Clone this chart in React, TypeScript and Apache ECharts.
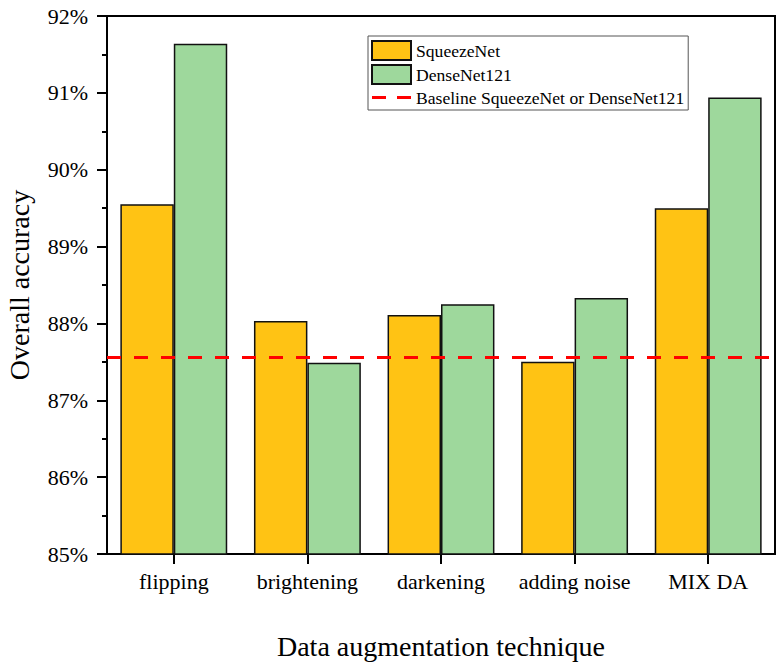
import React, { useEffect, useRef } from "react";
import * as echarts from "echarts";

const categories = ["flipping", "brightening", "darkening", "adding noise", "MIX DA"];
const squeezeNet = [89.55, 88.03, 88.11, 87.5, 89.5];
const denseNet = [91.64, 87.49, 88.25, 88.33, 90.94];
const baselineValue = 87.56;
const yMin = 85;
const yMax = 92;
const yInterval = 1;

const FONT = "Liberation Serif";

export default function App() {
  const ref = useRef<HTMLDivElement>(null);
  useEffect(() => {
    if (!ref.current) return;
    const chart = echarts.init(ref.current, undefined, { renderer: "svg" });
    chart.setOption({
      animation: false,
      backgroundColor: "#ffffff",
      textStyle: { fontFamily: FONT, color: "#000" },
      grid: {
        left: 107,
        right: 5,
        top: 16,
        bottom: 114,
        containLabel: false,
        outerBoundsMode: "none",
        show: true,
        borderColor: "#000",
        borderWidth: 2,
        backgroundColor: "transparent",
      },
      legend: {
        orient: "vertical",
        left: 368,
        top: 36,
        padding: [4, 4, 3, 3],
        itemGap: 3,
        itemWidth: 39,
        itemHeight: 19,
        borderColor: "#555",
        borderWidth: 1,
        backgroundColor: "#fff",
        textStyle: { fontFamily: FONT, fontSize: 17.6, lineHeight: 19, color: "#000" },
        data: [
          { name: "SqueezeNet", icon: "rect" },
          { name: "DenseNet121", icon: "rect" },
          {
            name: "Baseline SqueezeNet or DenseNet121",
            icon: "path://M0,0H14V3H0Z M25,0H39V3H25Z",
            itemStyle: { color: "#FF0000", borderWidth: 0 },
          },
        ],
      },
      xAxis: {
        type: "category",
        data: categories,
        name: "Data augmentation technique",
        nameLocation: "middle",
        nameGap: 78,
        nameTextStyle: { fontFamily: FONT, fontSize: 28, color: "#000" },
        axisLine: { lineStyle: { color: "#000", width: 2 } },
        axisTick: { show: true, alignWithLabel: true, length: 10, lineStyle: { color: "#000", width: 2 } },
        axisLabel: { interval: 0, fontFamily: FONT, fontSize: 22, color: "#000", margin: 16 },
        splitLine: { show: false },
      },
      yAxis: {
        type: "value",
        min: yMin,
        max: yMax,
        interval: yInterval,
        name: "Overall accuracy",
        nameLocation: "middle",
        nameGap: 74,
        nameTextStyle: { fontFamily: FONT, fontSize: 28, color: "#000" },
        axisLine: { show: true, lineStyle: { color: "#000", width: 2 } },
        axisTick: { show: true, length: 10, lineStyle: { color: "#000", width: 2 } },
        minorTick: { show: true, splitNumber: 2, length: 5, lineStyle: { color: "#000", width: 2 } },
        axisLabel: {
          fontFamily: FONT,
          fontSize: 22,
          color: "#000",
          margin: 19,
          formatter: "{value}%",
        },
        splitLine: { show: false },
      },
      series: [
        {
          name: "SqueezeNet",
          type: "bar",
          data: squeezeNet,
          barGap: "0%",
          barCategoryGap: "20%",
          itemStyle: { color: "#FFC314", borderColor: "#111", borderWidth: 1.5 },
        },
        {
          name: "DenseNet121",
          type: "bar",
          data: denseNet,
          barGap: "0%",
          barCategoryGap: "20%",
          itemStyle: { color: "#9ED89C", borderColor: "#111", borderWidth: 1.5 },
        },
        {
          name: "Baseline SqueezeNet or DenseNet121",
          type: "line",
          data: [],
          symbol: "none",
          z: 5,
          lineStyle: { color: "#FF0000", width: 3, type: [14, 11] },
          itemStyle: { color: "#FF0000" },
          markLine: {
            silent: true,
            symbol: "none",
            label: { show: false },
            lineStyle: { color: "#FF0000", width: 3, type: [14, 13] },
            data: [{ yAxis: baselineValue }],
          },
        },
      ],
    });
    return () => chart.dispose();
  }, []);
  return (
    <div
      ref={ref}
      style={{ position: "absolute", left: 0, top: 0, width: 780, height: 668 }}
    />
  );
}
